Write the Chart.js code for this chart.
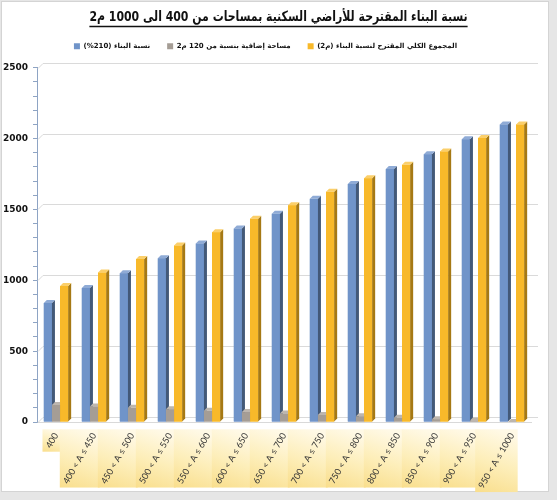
<!DOCTYPE html>
<html>
<head>
<meta charset="utf-8">
<script src="https://cdn.jsdelivr.net/npm/chart.js@4.4.1/dist/chart.umd.min.js"></script>
<style>
  html,body{margin:0;padding:0;background:#e8e8e8;}
  #wrap{width:557px;height:500px;}
</style>
</head>
<body>
<div id="wrap"><canvas id="c" width="557" height="500"></canvas></div>
<script>
// ---- data ----
const categories = ['400','400 < A \u2264 450','450 < A \u2264 500','500 < A \u2264 550','550 < A \u2264 600','600 < A \u2264 650','650 < A \u2264 700','700 < A \u2264 750','750 < A \u2264 800','800 < A \u2264 850','850 < A \u2264 900','900 < A \u2264 950','950 < A \u2264 1000'];
const buildingRatio = [840,945,1050,1155,1260,1365,1470,1575,1680,1785,1890,1995,2100];
const extraArea = [120,110,100,90,80,70,60,50,40,30,20,10,0];
const totalArea = [960,1055,1150,1245,1340,1435,1530,1625,1720,1815,1910,2005,2100];
const seriesNames = ['(%210) \u0646\u0633\u0628\u0629 \u0627\u0644\u0628\u0646\u0627\u0621',
  '\u0645\u0633\u0627\u062d\u0629 \u0625\u0636\u0627\u0641\u064a\u0629 \u0628\u0646\u0633\u0628\u0629 \u0645\u0646 120 \u06452',
  '\u0627\u0644\u0645\u062c\u0645\u0648\u0639 \u0627\u0644\u0643\u0644\u064a \u0627\u0644\u0645\u0642\u062a\u0631\u062d \u0644\u0646\u0633\u0628\u0629 \u0627\u0644\u0628\u0646\u0627\u0621 (\u06452)\u200F'];
const titleText = '\u0646\u0633\u0628\u0629 \u0627\u0644\u0628\u0646\u0627\u0621 \u0627\u0644\u0645\u0642\u062a\u0631\u062d\u0629 \u0644\u0644\u0623\u0631\u0627\u0636\u064a \u0627\u0644\u0633\u0643\u0646\u064a\u0629 \u0628\u0645\u0633\u0627\u062d\u0627\u062a \u0645\u0646 400 \u0627\u0644\u0649 1000 \u06452\u200F';
const yMax = 2500;

const frontColors = ['#7094c9','#a59d95','#f8b92a'];
const sideColors  = ['#435978','#6e675f','#a67914'];
const topColors   = ['#8fabd6','#bdb6ae','#fbcf6a'];

const TITLE_FONT = {family:'"DejaVu Sans", sans-serif', size:14, weight:'bold'};
const TITLE_PAD = {top:9, bottom:0};
const TITLE_SX = 0.78;
const DEPTH = 3;
const WALL = 5;

const bgPlugin = {
  id:'bg',
  beforeDraw(chart){
    const ctx = chart.ctx;
    ctx.save();
    ctx.fillStyle = '#e6e6e6';
    ctx.fillRect(0,0,chart.width,chart.height);
    ctx.fillStyle = '#ffffff';
    ctx.fillRect(1,1,548,491);
    ctx.strokeStyle = '#d4d4d4';
    ctx.lineWidth = 1;
    ctx.strokeRect(1.5,1.5,547,490);
    // category label boxes
    const xs = chart.scales.x;
    let items = null;
    try { items = xs.getLabelItems(); } catch(e) { items = null; }
    if (items) {
      items.forEach((it) => {
        const o = it.options;
        ctx.save();
        ctx.font = it.font.string;
        const w = ctx.measureText(it.label).width;
        const h = it.font.lineHeight;
        const [tx,ty] = o.translation;
        const r = o.rotation;
        const off = it.textOffset;
        let y0, y1;
        if (o.textBaseline === 'middle') { y0 = off - h/2; y1 = off + h/2; }
        else if (o.textBaseline === 'top') { y0 = off; y1 = off + h; }
        else { y0 = off - h; y1 = off; }
        let x0, x1;
        if (o.textAlign === 'right') { x0 = -w - 2; x1 = 2; }
        else if (o.textAlign === 'left') { x0 = -2; x1 = w + 2; }
        else { x0 = -w/2 - 2; x1 = w/2 + 2; }
        const pts = [[x0,y0],[x1,y0],[x1,y1],[x0,y1]].map(([px,py]) => [
          tx + px*Math.cos(r) - py*Math.sin(r),
          ty + px*Math.sin(r) + py*Math.cos(r)]);
        const minX = Math.min(...pts.map(p=>p[0])), maxX = Math.max(...pts.map(p=>p[0]));
        const minY = Math.min(...pts.map(p=>p[1])), maxY = Math.max(...pts.map(p=>p[1]));
        const g = ctx.createLinearGradient(minX, maxY, minX + (maxY-minY)*0.35, minY);
        g.addColorStop(0, '#f9de8c');
        g.addColorStop(0.5, '#fdeeb9');
        g.addColorStop(1, '#fff9e6');
        ctx.fillStyle = g;
        ctx.fillRect(minX, minY, maxX-minX, maxY-minY);
        ctx.restore();
      });
    }
    ctx.restore();
  },
  beforeDatasetsDraw(chart){
    // 3D back-wall gridlines
    const ctx = chart.ctx, ys = chart.scales.y, a = chart.chartArea;
    ctx.save();
    ctx.strokeStyle = '#dadada';
    ctx.lineWidth = 1;
    ys.ticks.forEach(t => {
      if (t.value % 500 !== 0) return;
      const y = Math.round(ys.getPixelForValue(t.value)) + 0.5;
      ctx.beginPath();
      ctx.moveTo(a.left + 1, y);
      ctx.lineTo(a.left + 1 + WALL, y - WALL);
      ctx.lineTo(a.right + 7, y - WALL);
      ctx.stroke();
    });
    ctx.restore();
  }
};

const bar3dPlugin = {
  id:'bar3d',
  afterDatasetsDraw(chart){
    const ctx = chart.ctx;
    const d = DEPTH;
    ctx.save();
    chart.data.datasets.forEach((ds, di) => {
      const meta = chart.getDatasetMeta(di);
      meta.data.forEach(el => {
        const {x,y,base,width} = el.getProps(['x','y','base','width'], true);
        const l = x - width/2, r = x + width/2;
        ctx.fillStyle = frontColors[di];
        ctx.fillRect(l, y, width, base - y);
        ctx.fillStyle = sideColors[di];
        ctx.beginPath();
        ctx.moveTo(r, y); ctx.lineTo(r+d, y-d); ctx.lineTo(r+d, base-d); ctx.lineTo(r, base);
        ctx.closePath(); ctx.fill();
        ctx.fillStyle = topColors[di];
        ctx.beginPath();
        ctx.moveTo(l, y); ctx.lineTo(l+d, y-d); ctx.lineTo(r+d, y-d); ctx.lineTo(r, y);
        ctx.closePath(); ctx.fill();
      });
    });
    ctx.restore();
  }
};

const titlePlugin = {
  id:'titleDraw',
  afterDraw(chart){
    const tb = chart.titleBlock;
    if (!tb) return;
    const ctx = chart.ctx;
    ctx.save();
    ctx.font = `${TITLE_FONT.weight} ${TITLE_FONT.size}px ${TITLE_FONT.family}`;
    const w = ctx.measureText(titleText).width * TITLE_SX;
    const cx = chart.width/2;
    const cy = tb.top + TITLE_PAD.top + TITLE_FONT.size*1.2/2;
    ctx.fillStyle = '#111';
    ctx.textAlign = 'center';
    ctx.textBaseline = 'middle';
    ctx.translate(cx, cy);
    ctx.scale(TITLE_SX, 1);
    ctx.fillText(titleText, 0, 0);
    ctx.setTransform(1,0,0,1,0,0);
    ctx.strokeStyle = '#111';
    ctx.lineWidth = 1.3;
    const uy = Math.round(cy + 9) + 0.5;
    ctx.beginPath();
    ctx.moveTo(cx - w/2, uy);
    ctx.lineTo(cx + w/2, uy);
    ctx.stroke();
    ctx.restore();
  }
};

new Chart(document.getElementById('c'), {
  type:'bar',
  data:{
    labels: categories,
    datasets:[
      {label: seriesNames[0], data: buildingRatio, backgroundColor: frontColors[0]},
      {label: seriesNames[1], data: extraArea, backgroundColor: frontColors[1]},
      {label: seriesNames[2], data: totalArea, backgroundColor: frontColors[2]}
    ]
  },
  options:{
    responsive:false,
    animation:false,
    devicePixelRatio:1,
    layout:{padding:{left:0,right:26,top:0,bottom:0}},
    datasets:{bar:{categoryPercentage:0.64, barPercentage:1.0, borderWidth:0}},
    plugins:{
      title:{display:true, text:titleText, color:'rgba(0,0,0,0)', font:TITLE_FONT, padding:TITLE_PAD},
      legend:{
        display:true,
        labels:{boxWidth:6, boxHeight:6, padding:17, color:'#111',
          font:{family:'"DejaVu Sans", sans-serif', size:7, weight:'bold'}},
      },
      tooltip:{enabled:false}
    },
    scales:{
      x:{
        grid:{display:false, drawTicks:false},
        border:{display:true, color:'#d9d9d9'},
        ticks:{minRotation:60, maxRotation:60, padding:9, color:'#333',
          font:{family:'Lato, sans-serif', size:9}, autoSkip:false},
        afterFit(scale){ scale.height = 78; }
      },
      xTop:{
        type:'category', position:'top', display:true,
        grid:{display:false, drawTicks:false},
        border:{display:false},
        ticks:{display:false},
        afterFit(scale){ scale.height = 8; }
      },
      y:{
        min:0, max:yMax,
        grid:{
          color:'rgba(0,0,0,0)',
          tickColor:'#8ea4c4', tickLength:4, lineWidth:1
        },
        border:{display:true, color:'#8ea4c4'},
        ticks:{stepSize:100, padding:5, color:'#111',
          font:{family:'"DejaVu Sans", sans-serif', size:9, weight:'bold'},
          callback: v => (v % 500 === 0 ? v : '')},
        afterFit(scale){ scale.width = 37; }
      }
    }
  },
  plugins:[bgPlugin, bar3dPlugin, titlePlugin]
});
</script>
</body>
</html>
